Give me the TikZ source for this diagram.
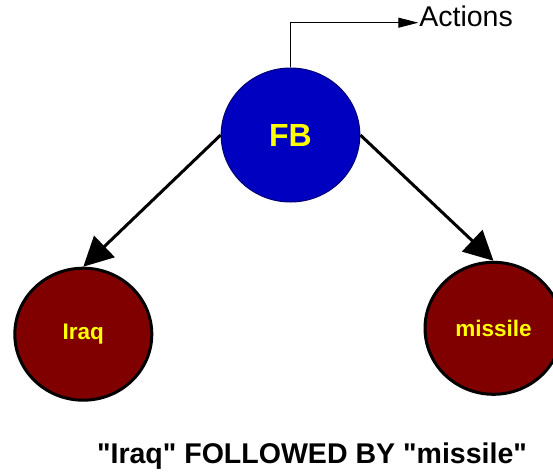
\documentclass[tikz,border=0pt]{standalone}
\usepackage{fontspec}
\setmainfont{Liberation Sans}
\newfontfamily\labelfont{Liberation Sans}
\usetikzlibrary{shapes.geometric,arrows.meta}
\definecolor{fbblue}{RGB}{0,0,192}
\definecolor{leafred}{RGB}{128,0,0}
\definecolor{labelyellow}{RGB}{255,255,0}
\begin{document}
\begin{tikzpicture}[x=0.75pt,y=-0.75pt,
  fbnode/.style={ellipse, fill=fbblue, draw=fbblue!60!black, line width=0.75pt,
    minimum width=104pt, minimum height=100.5pt, inner sep=0pt,
    text=labelyellow, font=\labelfont\fontsize{24}{24}\selectfont\bfseries},
  leaf/.style={ellipse, fill=leafred, draw=black, line width=2.25pt,
    minimum width=102.75pt, minimum height=99pt, inner sep=0pt,
    text=labelyellow, font=\labelfont\fontsize{16.9}{17}\selectfont\bfseries},
  edge/.style={-{Triangle[length=22pt,width=22pt]}, line width=2.25pt},
  link/.style={-{Triangle[length=15pt,width=7.5pt]}, line width=0.75pt},
  plain/.style={inner sep=0pt, text=black}]
\clip (0,0) rectangle (553,474);
\useasboundingbox (0,0) rectangle (553,474);

% root and the two leaves
\node[fbnode] (fb) at (290.5,135) {FB};
\node[leaf] (iraq) at (83.3,334.2) {Iraq};
\node[leaf] (missile) at (493.5,328.3) {missile};

\draw[edge] (fb.west) -- (iraq.north);
\draw[edge] (fb.east) -- (missile.north);

% output link to the actions label
\coordinate (acttip) at (418.3,22.7);
\node[plain, anchor=base west, font=\labelfont\fontsize{21.4}{22}\selectfont] (act) at (419,27) {Actions};
\draw[link] (fb.north) |- (acttip);

\node[plain, anchor=base, font=\labelfont\fontsize{21.4}{22}\selectfont\bfseries] (caption) at (312,463.5)
  {"Iraq" FOLLOWED BY "missile"};
\end{tikzpicture}
\end{document}
